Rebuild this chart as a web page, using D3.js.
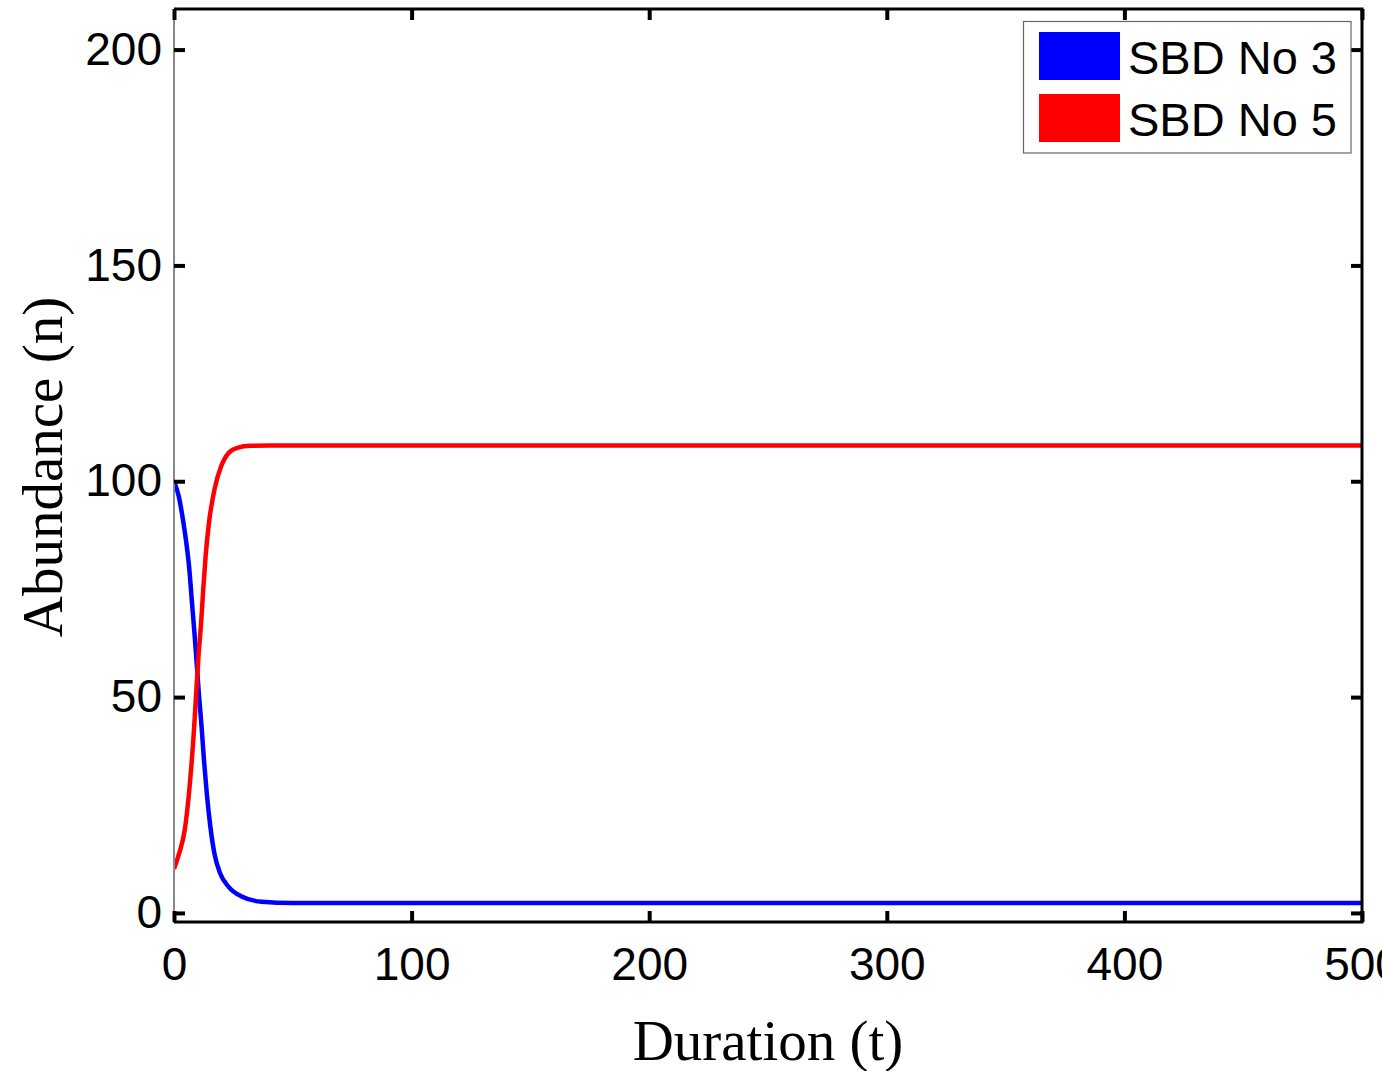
<!DOCTYPE html>
<html>
<head>
<meta charset="utf-8">
<script src="https://cdn.jsdelivr.net/npm/d3@7"></script>
<style>
  html, body { margin: 0; padding: 0; background: #fff; }
  svg { display: block; }
</style>
</head>
<body>
<svg id="chart" width="1382" height="1071"></svg>
<script>
// Abundance of two SBD populations over time
const seriesNames = ["SBD No 3", "SBD No 5"];
const seriesColors = ["#0000ff", "#ff0000"];

const sbd3Time = [0, 2, 3.8, 5, 6.3, 7.7, 8.8, 9.6, 10.5, 11.6, 12.6, 13.8, 15.3, 17, 19.4, 22.9, 28.5, 36.8, 50, 100, 200, 300, 400, 500];
const sbd3Abundance = [100, 96.5, 91, 86.5, 80.5, 71, 63.5, 57.5, 50.5, 43.2, 35.5, 27.7, 20, 13.8, 9.2, 6.1, 3.8, 2.6, 2.3, 2.3, 2.3, 2.3, 2.3, 2.3];

const sbd5Time = [0, 2, 4.6, 6.3, 8.5, 9.3, 10.3, 11.4, 12.3, 13.3, 14.7, 17, 19.8, 22.9, 27, 32, 40, 100, 200, 300, 400, 500];
const sbd5Abundance = [10.2, 13.5, 19.5, 27.7, 43.2, 50.5, 59.4, 67.1, 74.9, 82.6, 90.3, 98, 103.4, 106.5, 107.8, 108.2, 108.3, 108.3, 108.3, 108.3, 108.3, 108.3];

const xTicks = [0, 100, 200, 300, 400, 500];
const yTicks = [0, 50, 100, 150, 200];
const xLabel = "Duration (t)";
const yLabel = "Abundance (n)";

(function draw() {
  const svg = d3.select("#chart");
  const plotLeft = 174, plotRight = 1362, plotTop = 9, plotBottom = 922;

  const x = d3.scaleLinear().domain([0, 500]).range([plotLeft, plotRight]);
  const y = d3.scaleLinear().domain([-2.1, 209.4]).range([plotBottom, plotTop]);

  const series = [
    { name: seriesNames[0], color: seriesColors[0], pts: sbd3Time.map((t, i) => [t, sbd3Abundance[i]]) },
    { name: seriesNames[1], color: seriesColors[1], pts: sbd5Time.map((t, i) => [t, sbd5Abundance[i]]) }
  ];

  svg.append("defs").append("clipPath").attr("id", "plot-clip")
    .append("rect").attr("x", plotLeft).attr("y", plotTop)
    .attr("width", plotRight - plotLeft).attr("height", plotBottom - plotTop);

  const line = d3.line().x(d => x(d[0])).y(d => y(d[1])).curve(d3.curveMonotoneX);

  svg.append("g").attr("clip-path", "url(#plot-clip)")
    .selectAll("path").data(series).join("path")
    .attr("d", d => line(d.pts))
    .attr("fill", "none")
    .attr("stroke", d => d.color)
    .attr("stroke-width", 4.5)
    .attr("stroke-linejoin", "round");

  // Frame
  svg.append("line").attr("x1", plotLeft).attr("x2", plotLeft).attr("y1", plotTop).attr("y2", plotBottom + 1)
    .attr("stroke", "#888").attr("stroke-width", 2);
  svg.append("line").attr("x1", plotLeft).attr("x2", plotRight + 1.5).attr("y1", plotTop).attr("y2", plotTop)
    .attr("stroke", "#000").attr("stroke-width", 3);
  svg.append("line").attr("x1", plotLeft).attr("x2", plotRight + 1.5).attr("y1", plotBottom).attr("y2", plotBottom)
    .attr("stroke", "#000").attr("stroke-width", 3);
  svg.append("line").attr("x1", plotRight).attr("x2", plotRight).attr("y1", plotTop).attr("y2", plotBottom)
    .attr("stroke", "#000").attr("stroke-width", 3);

  const tickFont = "'Liberation Sans', Arial, Helvetica, sans-serif";

  function styleAxis(g, showText) {
    g.select(".domain").remove();
    g.selectAll(".tick line").attr("stroke", "#000").attr("stroke-width", 4);
    g.selectAll(".tick text").attr("fill", "#000").style("font-family", tickFont).style("font-size", "46px");
    if (!showText) g.selectAll(".tick text").remove();
  }

  svg.append("g").attr("transform", `translate(0,${plotBottom})`)
    .call(d3.axisBottom(x).tickValues(xTicks).tickSize(-11).tickPadding(25))
    .call(g => styleAxis(g, true));
  svg.append("g").attr("transform", `translate(0,${plotTop})`)
    .call(d3.axisTop(x).tickValues(xTicks).tickSize(-11))
    .call(g => styleAxis(g, false));
  svg.append("g").attr("transform", `translate(${plotLeft},0)`)
    .call(d3.axisLeft(y).tickValues(yTicks).tickSize(-11).tickPadding(12))
    .call(g => styleAxis(g, true));
  svg.append("g").attr("transform", `translate(${plotRight},0)`)
    .call(d3.axisRight(y).tickValues(yTicks).tickSize(-11))
    .call(g => styleAxis(g, false));

  // Axis titles
  const titleFont = "'Liberation Serif', 'Times New Roman', serif";
  svg.append("text").attr("x", 768).attr("y", 1060).attr("text-anchor", "middle")
    .style("font-family", titleFont).style("font-size", "57px").text(xLabel);
  svg.append("text").attr("transform", "translate(62,467) rotate(-90)").attr("text-anchor", "middle")
    .style("font-family", titleFont).style("font-size", "57px").text(yLabel);

  // Legend
  const lg = svg.append("g");
  lg.append("rect").attr("x", 1023.5).attr("y", 21.5).attr("width", 327.5).attr("height", 131.5)
    .attr("fill", "#fff").attr("stroke", "#666").attr("stroke-width", 1.2);
  const items = lg.selectAll("g.item").data(series).join("g").attr("class", "item")
    .attr("transform", (d, i) => `translate(0,${i * 62})`);
  items.append("rect").attr("x", 1039).attr("y", 32).attr("width", 81).attr("height", 48)
    .attr("fill", d => d.color);
  items.append("text").attr("x", 1128).attr("y", 74)
    .style("font-family", tickFont).style("font-size", "47px").attr("fill", "#000")
    .text(d => d.name);
})();
</script>
</body>
</html>
